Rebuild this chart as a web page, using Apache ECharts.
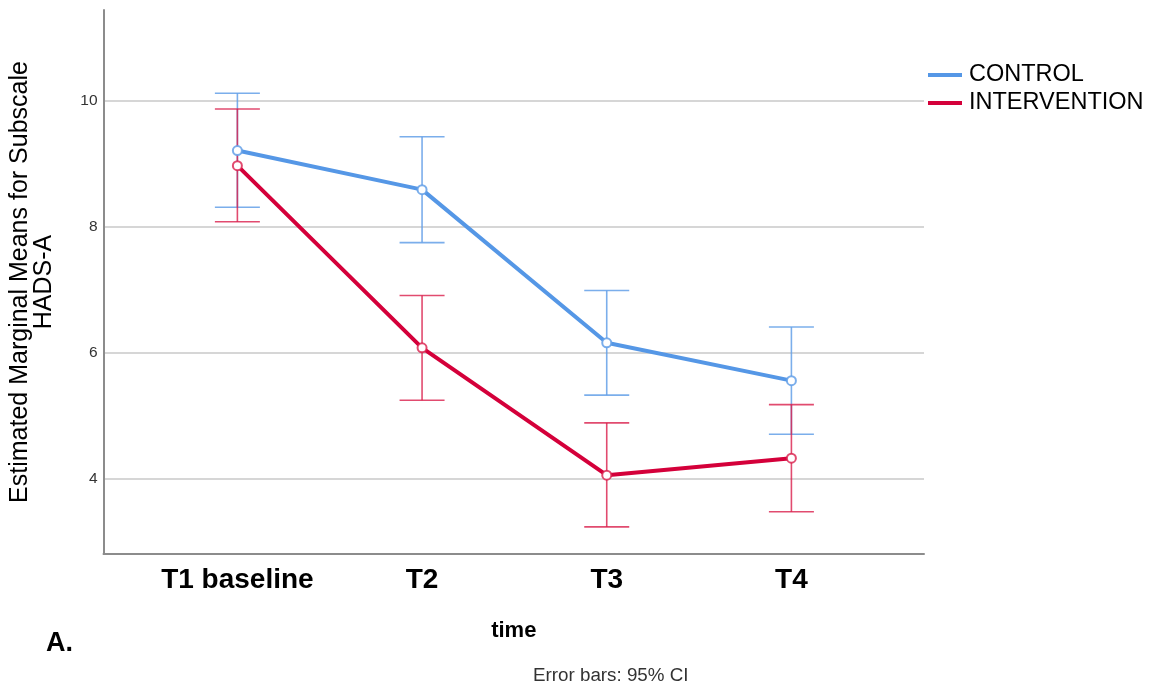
<!DOCTYPE html>
<html>
<head>
<meta charset="utf-8">
<script src="https://cdn.jsdelivr.net/npm/echarts@6/dist/echarts.min.js"></script>
<style>
html,body{margin:0;padding:0;background:#fff;}
#chart{width:1154px;height:686px;}
</style>
</head>
<body>
<div id="chart"></div>
<script>
// ---- data ----
const categories = ['T1 baseline', 'T2', 'T3', 'T4'];
const controlMean = [9.21, 8.59, 6.16, 5.56];
const controlLow = [8.31, 7.75, 5.33, 4.71];
const controlHigh = [10.12, 9.43, 6.99, 6.41];
const interventionMean = [8.97, 6.08, 4.06, 4.33];
const interventionLow = [8.08, 5.25, 3.24, 3.48];
const interventionHigh = [9.87, 6.91, 4.89, 5.18];
const yTicks = [4, 6, 8, 10];

const FONT = "'Liberation Sans', Arial, sans-serif";
const BLUE = '#5597e6';
const RED = '#d4003a';
const BLUE_LIGHT = 'rgba(100,160,232,0.85)';
const RED_LIGHT = 'rgba(218,30,75,0.8)';

const xPos = categories.map((c, i) => i + 1);

function lineData(vals) { return vals.map((v, i) => [xPos[i], v]); }
function ciData(low, high) { return low.map((l, i) => [xPos[i], l, high[i]]); }

function errorBarSeries(name, low, high, color) {
  return {
    type: 'custom',
    name: name,
    data: ciData(low, high),
    encode: { x: 0, y: [1, 2] },
    z: 3,
    silent: true,
    renderItem: function (params, api) {
      const x = api.value(0);
      const lo = api.coord([x, api.value(1)]);
      const hi = api.coord([x, api.value(2)]);
      const hw = 22.5;
      const style = { stroke: color, lineWidth: 1.6, fill: null };
      return {
        type: 'group',
        children: [
          { type: 'line', shape: { x1: lo[0], y1: lo[1], x2: hi[0], y2: hi[1] }, style: style },
          { type: 'line', shape: { x1: lo[0] - hw, y1: lo[1], x2: lo[0] + hw, y2: lo[1] }, style: style },
          { type: 'line', shape: { x1: hi[0] - hw, y1: hi[1], x2: hi[0] + hw, y2: hi[1] }, style: style }
        ]
      };
    }
  };
}

const chart = echarts.init(document.getElementById('chart'), null, { renderer: 'canvas' });
chart.setOption({
  animation: false,
  backgroundColor: '#fff',
  textStyle: { fontFamily: FONT },
  grid: { left: 103, top: 10, width: 821, bottom: 132, containLabel: false },
  title: [
    { text: 'A.', left: 46, top: 630, padding: 0, textStyle: { fontFamily: FONT, fontSize: 27, fontWeight: 'bold', color: '#000' } },
    { text: 'Error bars: 95% CI', left: 533, top: 666, padding: 0, textStyle: { fontFamily: FONT, fontSize: 18.8, fontWeight: 'normal', color: '#333' } }
  ],
  legend: {
    orient: 'vertical',
    left: 923,
    top: 58,
    itemWidth: 34,
    itemHeight: 4,
    itemGap: 4,
    selectedMode: false,
    textStyle: { fontFamily: FONT, fontSize: 23.5, color: '#000', padding: [0, 0, 0, 2], lineHeight: 24 },
    data: [
      { name: 'CONTROL', icon: 'rect', itemStyle: { color: BLUE, borderWidth: 0 } },
      { name: 'INTERVENTION', icon: 'rect', itemStyle: { color: RED, borderWidth: 0 } }
    ]
  },
  xAxis: {
    type: 'value',
    min: 0.275,
    max: 4.718,
    name: 'time',
    nameLocation: 'middle',
    nameGap: 66,
    nameTextStyle: { fontFamily: FONT, fontSize: 22, fontWeight: 'bold', color: '#000' },
    axisLine: { show: true, lineStyle: { color: '#8c8c8c', width: 2 } },
    axisTick: { show: false, customValues: xPos },
    splitLine: { show: false },
    axisLabel: {
      customValues: xPos,
      margin: 12,
      fontFamily: FONT,
      fontSize: 28,
      fontWeight: 'bold',
      color: '#000',
      formatter: function (v) { return categories[Math.round(v) - 1] || ''; }
    }
  },
  yAxis: {
    type: 'value',
    min: 2.81,
    max: 11.44,
    name: 'Estimated Marginal Means for Subscale\nHADS-A',
    nameLocation: 'middle',
    nameGap: 47,
    nameTextStyle: { fontFamily: FONT, fontSize: 25, lineHeight: 24, color: '#000', align: 'center' },
    axisLine: { show: true, lineStyle: { color: '#8c8c8c', width: 2 } },
    axisTick: { show: false, customValues: yTicks },
    splitLine: { show: true, lineStyle: { color: '#c8c8c8', width: 1.5 } },
    axisLabel: {
      customValues: yTicks,
      margin: 6,
      fontFamily: FONT,
      fontSize: 15.5,
      color: '#333'
    }
  },
  series: [
    errorBarSeries('CONTROL CI', controlLow, controlHigh, BLUE_LIGHT),
    errorBarSeries('INTERVENTION CI', interventionLow, interventionHigh, RED_LIGHT),
    {
      type: 'line',
      name: 'CONTROL',
      data: lineData(controlMean),
      z: 4,
      symbol: 'emptyCircle',
      symbolSize: 9,
      lineStyle: { color: BLUE, width: 4 },
      itemStyle: { color: BLUE_LIGHT, borderWidth: 1.5 }
    },
    {
      type: 'line',
      name: 'INTERVENTION',
      data: lineData(interventionMean),
      z: 4,
      symbol: 'emptyCircle',
      symbolSize: 9,
      lineStyle: { color: RED, width: 4 },
      itemStyle: { color: RED_LIGHT, borderWidth: 1.5 }
    }
  ]
});
</script>
</body>
</html>
